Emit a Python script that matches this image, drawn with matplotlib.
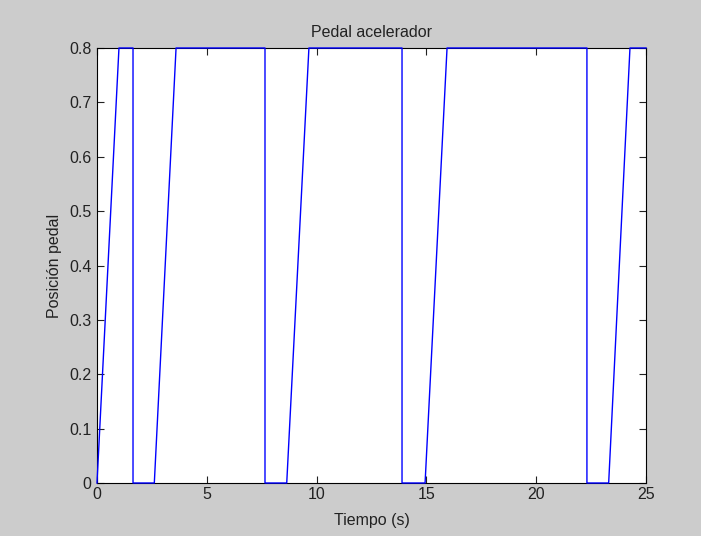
import matplotlib
matplotlib.use("Agg")
import matplotlib.pyplot as plt

# Breakpoints of the accelerator pedal signal
tiempo = [0.0, 1.0, 1.64, 1.64, 2.61, 3.60, 7.65, 7.65, 8.64, 9.65,
          13.89, 13.89, 14.94, 15.94, 22.31, 22.31, 23.30, 24.27, 25.0]
posicion = [0.0, 0.8, 0.8, 0.0, 0.0, 0.8, 0.8, 0.0, 0.0, 0.8,
            0.8, 0.0, 0.0, 0.8, 0.8, 0.0, 0.0, 0.8, 0.8]

xticks = [0, 5, 10, 15, 20, 25]
yticks = [0, 0.1, 0.2, 0.3, 0.4, 0.5, 0.6, 0.7, 0.8]

plt.rcParams['font.family'] = ['Liberation Sans', 'DejaVu Sans']

W, H = 701, 536
fig = plt.figure(figsize=(W / 100, H / 100), dpi=100, facecolor='#cccccc')
ax = fig.add_axes([97 / W, (H - 483) / H, (646 - 97) / W, (483 - 48) / H])
ax.set_facecolor('white')

ax.plot(tiempo, posicion, color='#0000ff', linewidth=1.0, clip_on=False, zorder=3)

ax.set_xlim(0, 25)
ax.set_ylim(0, 0.8)
ax.set_xticks(xticks)
ax.set_xticklabels([str(v) for v in xticks])
ax.set_yticks(yticks)
ax.set_yticklabels([f"{v:g}" for v in yticks])
ax.tick_params(direction='in', top=True, right=True, length=5, width=0.8,
               labelsize=11.5, colors='#222222', pad=3)
ax.tick_params(axis='y', pad=4)
for s in ax.spines.values():
    s.set_linewidth(0.8)
    s.set_color('black')

ax.set_title('Pedal acelerador', fontsize=11.5, pad=8, color='#222222')
ax.set_xlabel('Tiempo (s)', fontsize=11.5, labelpad=8, color='#222222')
ax.set_ylabel('Posición pedal', fontsize=11.5, labelpad=5, color='#222222')

fig.savefig('out.png', dpi=100, facecolor=fig.get_facecolor())
